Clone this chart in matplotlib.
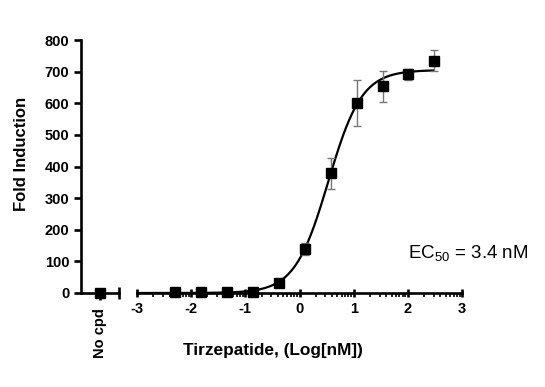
import numpy as np
import matplotlib
matplotlib.use('Agg')
import matplotlib.pyplot as plt
from matplotlib.ticker import FixedLocator

plt.rcParams['font.family'] = ['Liberation Sans', 'DejaVu Sans']
plt.rcParams['mathtext.fontset'] = 'custom'
plt.rcParams['mathtext.rm'] = 'Liberation Sans'
plt.rcParams['mathtext.it'] = 'Liberation Sans'

# Data
log_conc = [-2.30, -1.82, -1.34, -0.86, -0.38, 0.10, 0.58, 1.06, 1.54, 2.00, 2.48]
fold = [2, 2, 2, 4, 32, 139, 378, 602, 653, 692, 735]
fold_err = [0, 0, 0, 0, 0, 20, 50, 73, 49, 17, 32]
no_cpd = 1
no_cpd_err = 0

# 4PL fit parameters (EC50 = 3.4 nM)
bottom, top, log_ec50, hill = 0.0, 705.0, np.log10(3.4), 1.4

x_ticks = [-3, -2, -1, 0, 1, 2, 3]
y_ticks = [0, 100, 200, 300, 400, 500, 600, 700, 800]

W, H = 545, 387
fig = plt.figure(figsize=(W / 100, H / 100), dpi=100)

y0, y1 = 293, 40
bot = (H - y0) / H
hgt = (y0 - y1) / H
ax1 = fig.add_axes([81 / W, bot, (119 - 81) / W, hgt])
ax2 = fig.add_axes([137 / W, bot, (462 - 137) / W, hgt])

lw = 1.9
tfs = 10.5
for ax in (ax1, ax2):
    ax.set_ylim(0, 800)
    for s in ('top', 'right'):
        ax.spines[s].set_visible(False)
    ax.spines['bottom'].set_linewidth(lw)
    ax.spines['left'].set_linewidth(lw)
    ax.tick_params(axis='both', width=lw, length=5, labelsize=tfs, direction='out')

# no compound panel
ax1.set_xlim(-1, 1)
ax1.set_yticks(y_ticks)
ax1.set_yticklabels([str(v) for v in y_ticks], fontweight='bold', fontsize=tfs)
ax1.set_xticks([0])
ax1.set_xticklabels(['No cpd'], rotation=90, fontweight='bold', fontsize=tfs)
ax1.xaxis.set_minor_locator(FixedLocator([1]))
ax1.tick_params(axis='x', which='minor', direction='inout', length=9, width=lw)
ax1.tick_params(axis='x', which='major', pad=6)
ax1.errorbar([0], [no_cpd], yerr=[no_cpd_err], fmt='s', color='black', ms=6.5,
             ecolor='#777777', elinewidth=1, capsize=3, clip_on=False, zorder=5)

# main panel
ax2.set_xlim(-3, 3)
ax2.spines['left'].set_visible(False)
ax2.tick_params(axis='y', left=False, labelleft=False)
ax2.set_xticks(x_ticks)
ax2.set_xticklabels([str(v) for v in x_ticks], fontweight='bold', fontsize=tfs)
minor = [d + np.log10(k) for d in range(-3, 3) for k in range(2, 10)]
ax2.xaxis.set_minor_locator(FixedLocator(minor))
ax2.tick_params(axis='x', which='minor', length=3, width=1.2)
ax2.tick_params(axis='x', which='major', length=6, direction='inout')

xc = np.linspace(-3, log_conc[-1], 400)
yc = bottom + (top - bottom) / (1 + 10 ** ((log_ec50 - xc) * hill))
ax2.plot(xc, yc, color='black', lw=1.6, zorder=3)
ax2.errorbar(log_conc, fold, yerr=fold_err, fmt='s', color='black', ms=6.5,
             ecolor='#777777', elinewidth=1, capsize=3, capthick=1,
             clip_on=False, zorder=5)
ax2.text(2.0, 125, 'EC$_{50}$ = 3.4 nM', fontsize=13.5, ha='left', va='center')

fig.text(22 / W, 1 - 154 / H, 'Fold Induction', rotation=90, fontweight='bold',
         fontsize=12, ha='center', va='center')
fig.text(273 / W, 1 - 350 / H, 'Tirzepatide, (Log[nM])', fontweight='bold',
         fontsize=12.4, ha='center', va='center')

fig.savefig('out.png', dpi=100)
